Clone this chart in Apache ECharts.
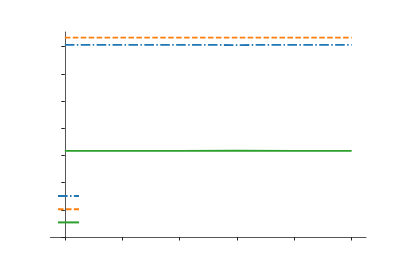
<!DOCTYPE html>
<html><head><meta charset="utf-8">
<script src="https://cdn.jsdelivr.net/npm/echarts@6/dist/echarts.min.js"></script>
<style>html,body{margin:0;padding:0;background:#fff}#c{width:407px;height:271px}</style>
</head><body><div id="c"></div>
<script>
const xValues = [0, 1, 2, 3, 4, 5];
const seriesBlue = [7.07, 7.07, 7.07, 7.06, 7.07, 7.07];
const seriesOrange = [7.33, 7.33, 7.33, 7.33, 7.33, 7.33];
const seriesGreen = [3.17, 3.17, 3.17, 3.18, 3.17, 3.17];
const xTicks = [0, 1, 2, 3, 4, 5];
const yTicks = [0, 1, 2, 3, 4, 5, 6, 7];

const pairs = arr => xValues.map((x, i) => [x, arr[i]]);
const chart = echarts.init(document.getElementById('c'), null, {renderer: 'canvas'});
const tickStyle = {show: true, length: 3.5, lineStyle: {color: '#222', width: 1}};
const lineAxis = {show: true, lineStyle: {color: '#555', width: 1}};
chart.setOption({
  animation: false,
  grid: {left: 50.5, right: 41, top: 32, bottom: 34, containLabel: false},
  xAxis: {type: 'value', min: -0.25, max: 5.25,
    axisTick: Object.assign({}, tickStyle, {customValues: xTicks}),
    axisLine: lineAxis, axisLabel: {show: false}, splitLine: {show: false}},
  yAxis: {type: 'value', min: 0, max: 7.54,
    axisTick: Object.assign({}, tickStyle, {customValues: yTicks}),
    axisLine: lineAxis, axisLabel: {show: false}, splitLine: {show: false}},
  legend: {
    orient: 'vertical', left: 57, top: 192, padding: 0,
    itemWidth: 21, itemHeight: 8, itemGap: 6,
    itemStyle: {opacity: 0, borderWidth: 0},
    formatter: () => '',
    data: ['blue', 'orange', 'green']
  },
  series: [
    {name: 'blue', type: 'line', data: pairs(seriesBlue), symbol: 'none', showSymbol: false,
     lineStyle: {color: '#1f77b4', width: 1.8, type: [9.6, 2.4, 1.5, 2.4]}, itemStyle: {color: '#1f77b4'}},
    {name: 'orange', type: 'line', data: pairs(seriesOrange), symbol: 'none', showSymbol: false,
     lineStyle: {color: '#ff7f0e', width: 1.8, type: [5.55, 2.4]}, itemStyle: {color: '#ff7f0e'}},
    {name: 'green', type: 'line', data: pairs(seriesGreen), symbol: 'none', showSymbol: false,
     lineStyle: {color: '#2ca02c', width: 1.8}, itemStyle: {color: '#2ca02c'}}
  ]
});
</script></body></html>
